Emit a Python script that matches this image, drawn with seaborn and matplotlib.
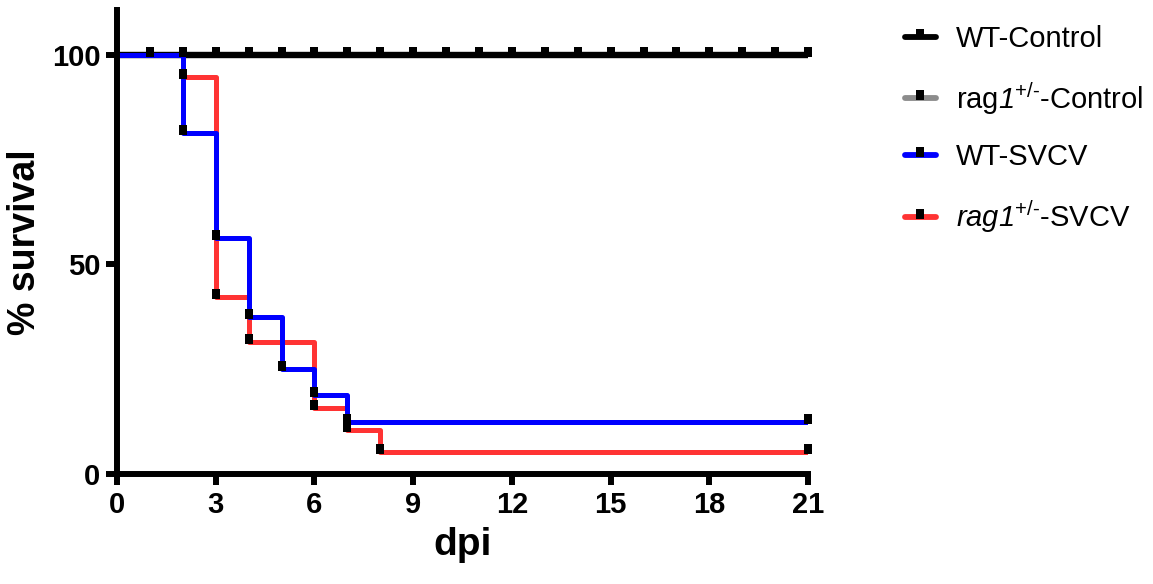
import matplotlib
matplotlib.use("Agg")
import matplotlib.pyplot as plt
import pandas as pd
import seaborn as sns
from matplotlib.lines import Line2D

# survival curves (Kaplan-Meier steps)
wt_ctrl_days = [0, 21]
wt_ctrl_surv = [100, 100]
rag_ctrl_days = [0, 21]
rag_ctrl_surv = [100, 100]
wt_svcv_days = [0, 2, 3, 4, 5, 6, 7, 21]
wt_svcv_surv = [100, 81.25, 56.25, 37.5, 25.0, 18.75, 12.5, 12.5]
rag_svcv_days = [0, 2, 3, 4, 6, 7, 8, 21]
rag_svcv_surv = [100, 94.7, 42.1, 31.6, 15.8, 10.5, 5.3, 5.3]

# tick marks drawn on the curves
ctrl_mark_days = list(range(1, 22))
ctrl_mark_surv = [100] * 21
wt_mark_days = [2, 3, 4, 5, 6, 7, 21]
wt_mark_surv = [81.25, 56.25, 37.5, 25.0, 18.75, 12.5, 12.5]
rag_mark_days = [2, 3, 4, 6, 7, 8, 21]
rag_mark_surv = [94.7, 42.1, 31.6, 15.8, 10.5, 5.3, 5.3]

# \mathsf is mapped to the italic face so the digit "1" is slanted too
labels = ["WT-Control", r"rag$\mathsf{1}^{+/\text{-}}$-Control", "WT-SVCV",
          r"$\mathsf{rag1}^{+/\text{-}}$-SVCV"]
colors = ["black", "#8c8c8c", "#0000ff", "#ff3333"]

sns.set_style("ticks", {"axes.edgecolor": "black", "xtick.color": "black", "ytick.color": "black",
                        "text.color": "black", "axes.labelcolor": "black"})
plt.rcParams["mathtext.fontset"] = "custom"
plt.rcParams["mathtext.rm"] = "Liberation Sans"
plt.rcParams["mathtext.it"] = "Liberation Sans:italic"
plt.rcParams["mathtext.sf"] = "Liberation Sans:italic"
plt.rcParams["font.family"] = ["Liberation Sans", "DejaVu Sans"]

curves = pd.concat([
    pd.DataFrame({"dpi": rag_ctrl_days, "surv": rag_ctrl_surv, "group": labels[1]}),
    pd.DataFrame({"dpi": wt_ctrl_days, "surv": wt_ctrl_surv, "group": labels[0]}),
    pd.DataFrame({"dpi": rag_svcv_days, "surv": rag_svcv_surv, "group": labels[3]}),
    pd.DataFrame({"dpi": wt_svcv_days, "surv": wt_svcv_surv, "group": labels[2]}),
])
marks = pd.concat([
    pd.DataFrame({"dpi": ctrl_mark_days, "surv": ctrl_mark_surv}),
    pd.DataFrame({"dpi": wt_mark_days, "surv": wt_mark_surv}),
    pd.DataFrame({"dpi": rag_mark_days, "surv": rag_mark_surv}),
])

fig = plt.figure(figsize=(11.53, 5.84), dpi=100)
ax = fig.add_axes([0.1015, 0.1884, 0.5993, 0.7946])

pal = dict(zip(labels, colors))
for g in [labels[1], labels[0], labels[3], labels[2]]:
    sub = curves[curves["group"] == g]
    lw = 4.6 if g == labels[0] else 3.6
    ax.plot(sub["dpi"], sub["surv"], drawstyle="steps-post", color=pal[g], lw=lw,
            solid_joinstyle="round", zorder=2)

tick_marker = [(-0.4, -0.2), (0.4, -0.2), (0.4, 0.75), (-0.4, 0.75)]
sns.scatterplot(data=marks, x="dpi", y="surv", ax=ax, marker=tick_marker, s=12 ** 2,
                color="black", linewidth=0, zorder=3, clip_on=False)

ax.set_xlim(0, 21)
ax.set_ylim(0, 110.7)
ax.set_xticks([0, 3, 6, 9, 12, 15, 18, 21])
ax.set_yticks([0, 50, 100])
sns.despine(ax=ax)
for sp in ["left", "bottom"]:
    ax.spines[sp].set_linewidth(4.3)
ax.tick_params(width=4.3, length=8, labelsize=21, pad=4)
for t in ax.get_xticklabels() + ax.get_yticklabels():
    t.set_fontweight("bold")
ax.set_xlabel("dpi", fontsize=28, fontweight="bold", labelpad=6)
ax.set_ylabel("% survival", fontsize=27, fontweight="bold", labelpad=6)

handles = [Line2D([0], [0], color=c, lw=4.2, marker=tick_marker, markersize=11,
                  markerfacecolor="black", markeredgewidth=0) for c in colors]
fig.legend(handles, labels, loc="upper left", bbox_to_anchor=(0.785, 0.957), frameon=False,
           borderpad=0, borderaxespad=0, fontsize=21, handlelength=1.05, handletextpad=0.7,
           labelspacing=0.92)

fig.savefig("out.png", dpi=100)
